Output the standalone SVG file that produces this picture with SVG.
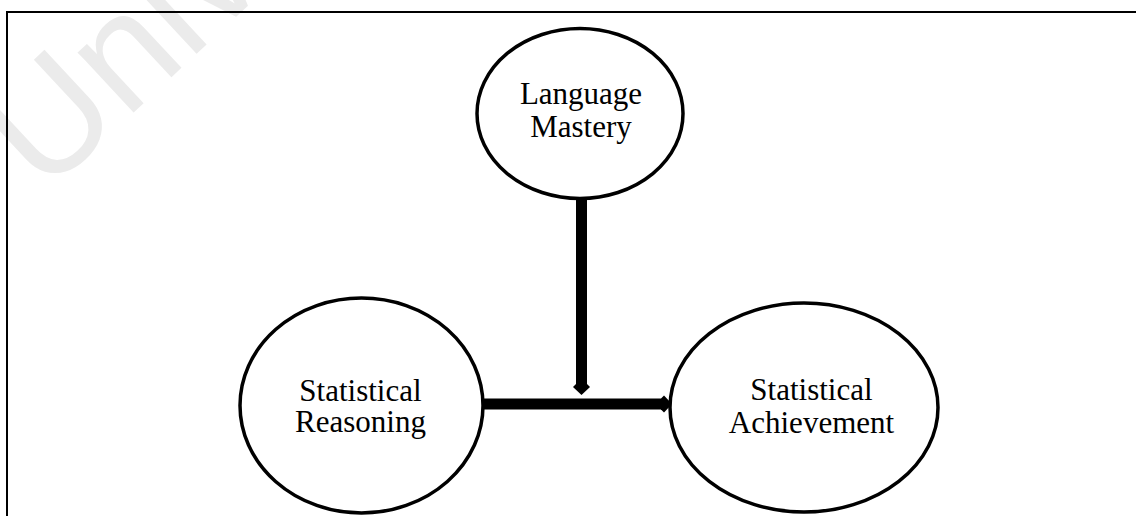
<svg xmlns="http://www.w3.org/2000/svg" width="1136" height="516" viewBox="0 0 1136 516">
  <defs>
    <style>
      .node ellipse { fill: #ffffff; stroke: #000000; stroke-width: 3.5; }
      .label { font-family: "Liberation Serif", "Times New Roman", serif; font-size: 31px; fill: #000000; text-anchor: middle; }
      .frame { stroke: #000000; stroke-width: 2; fill: none; }
      .link { stroke: #000000; stroke-width: 11; fill: none; marker-end: url(#head); }
      .mark { font-family: "Liberation Sans", Arial, sans-serif; font-size: 155px; fill: #ebebeb; }
    </style>
    <marker id="head" markerUnits="userSpaceOnUse" orient="auto" refX="0" refY="0"
            markerWidth="20" markerHeight="20" viewBox="-4 -10 14 20" overflow="visible">
      <path d="M-3,-5.5 L0,-8.5 L8,0 L0,8.5 L-3,5.5 Z" fill="#000000"/>
    </marker>
  </defs>

  <rect width="1136" height="516" fill="#ffffff"/>

  <!-- faint background watermark -->
  <text class="mark" transform="translate(44,196) rotate(-43)">Univ</text>

  <!-- open frame: top and left edges -->
  <path class="frame" d="M7,516 L7,12 L1136,12"/>

  <g id="connectors">
    <line class="link" x1="581.5" y1="198" x2="581.5" y2="387"/>
    <line class="link" x1="480" y1="404" x2="664" y2="404"/>
  </g>

  <g id="language-mastery" class="node">
    <ellipse cx="580" cy="113.5" rx="103" ry="85"/>
    <text class="label" x="581" y="104">Language</text>
    <text class="label" x="581" y="137">Mastery</text>
  </g>

  <g id="statistical-reasoning" class="node">
    <ellipse cx="361.5" cy="405.5" rx="121.5" ry="107.5"/>
    <text class="label" x="360.5" y="401">Statistical</text>
    <text class="label" x="360.5" y="432">Reasoning</text>
  </g>

  <g id="statistical-achievement" class="node">
    <ellipse cx="804" cy="407.5" rx="134" ry="104.5"/>
    <text class="label" x="811.5" y="400">Statistical</text>
    <text class="label" x="811.5" y="433">Achievement</text>
  </g>
</svg>
